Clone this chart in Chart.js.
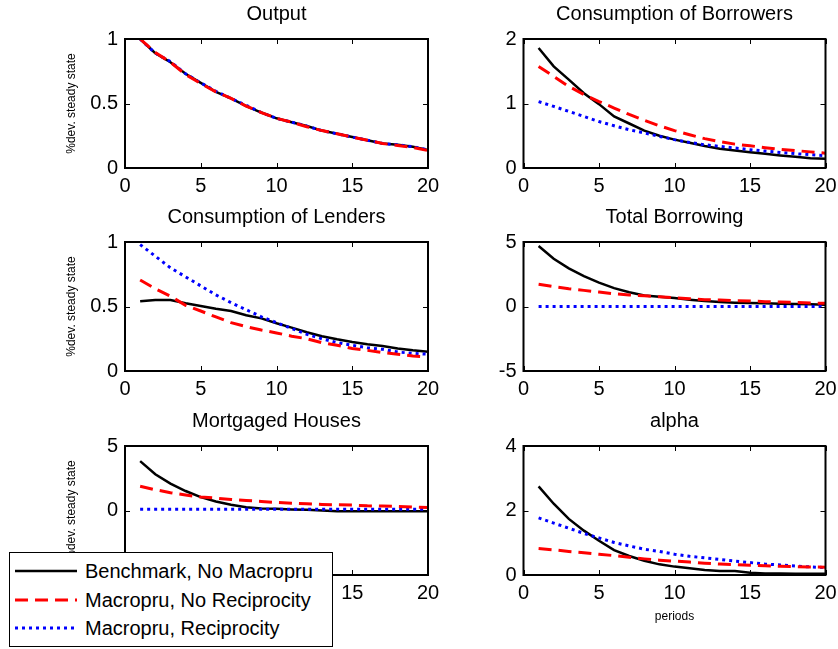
<!DOCTYPE html>
<html>
<head>
<meta charset="utf-8">
<script src="https://cdn.jsdelivr.net/npm/chart.js@4.4.1/dist/chart.umd.min.js"></script>
<style>
  html, body { margin: 0; padding: 0; background: #fff; }
  body { width: 838px; height: 649px; position: relative; overflow: hidden; font-family: "Liberation Sans", Arial, sans-serif; }
  .panel { position: absolute; }
  #legend { position: absolute; left: 9px; top: 552px; width: 322px; height: 93px; border: 1.5px solid #000; background: #fff; z-index: 5; }
  #legend .row { position: absolute; left: 0; height: 24px; line-height: 24px; font-size: 20px; white-space: nowrap; }
  #legend canvas { position: absolute; left: 4px; top: 2px; }
  #legend span { position: absolute; left: 75px; top: 0; }
</style>
</head>
<body>
<div id="legend"></div>
<script>
// periods on the x axis
const periods = [1, 2, 3, 4, 5, 6, 7, 8, 9, 10, 11, 12, 13, 14, 15, 16, 17, 18, 19, 20];
const xTicks = [0, 5, 10, 15, 20];

const seriesNames = ['Benchmark, No Macropru', 'Macropru, No Reciprocity', 'Macropru, Reciprocity'];

// Output
const outputBench = [1.0, 0.89, 0.82, 0.73, 0.66, 0.59, 0.54, 0.48, 0.43, 0.385, 0.355, 0.325, 0.29, 0.265, 0.24, 0.215, 0.19, 0.18, 0.165, 0.14];
const outputNoRecip = [1.0, 0.895, 0.82, 0.725, 0.655, 0.59, 0.54, 0.48, 0.43, 0.385, 0.355, 0.32, 0.29, 0.265, 0.24, 0.215, 0.19, 0.175, 0.16, 0.135];
const outputRecip = [1.0, 0.89, 0.825, 0.73, 0.66, 0.595, 0.54, 0.485, 0.43, 0.385, 0.355, 0.325, 0.29, 0.265, 0.24, 0.215, 0.19, 0.18, 0.165, 0.14];

// Consumption of Borrowers
const cbBench = [1.86, 1.575, 1.37, 1.16, 0.99, 0.80, 0.69, 0.58, 0.50, 0.44, 0.39, 0.34, 0.30, 0.27, 0.245, 0.22, 0.195, 0.175, 0.15, 0.145];
const cbNoRecip = [1.575, 1.42, 1.265, 1.14, 1.03, 0.93, 0.83, 0.74, 0.655, 0.58, 0.515, 0.455, 0.41, 0.37, 0.345, 0.315, 0.29, 0.27, 0.25, 0.23];
const cbRecip = [1.03, 0.955, 0.877, 0.80, 0.72, 0.655, 0.594, 0.543, 0.49, 0.44, 0.397, 0.36, 0.335, 0.31, 0.284, 0.263, 0.242, 0.222, 0.206, 0.19];

// Consumption of Lenders
const clBench = [0.54, 0.55, 0.55, 0.525, 0.504, 0.483, 0.465, 0.432, 0.408, 0.37, 0.336, 0.30, 0.27, 0.246, 0.225, 0.207, 0.194, 0.174, 0.16, 0.15];
const clNoRecip = [0.705, 0.638, 0.58, 0.509, 0.465, 0.419, 0.375, 0.344, 0.318, 0.295, 0.27, 0.25, 0.22, 0.20, 0.174, 0.16, 0.143, 0.13, 0.116, 0.11];
const clRecip = [0.98, 0.89, 0.80, 0.73, 0.66, 0.59, 0.53, 0.475, 0.42, 0.375, 0.33, 0.285, 0.25, 0.22, 0.20, 0.18, 0.168, 0.147, 0.137, 0.13];

// Total Borrowing
const tbBench = [4.69, 3.70, 2.96, 2.36, 1.85, 1.42, 1.10, 0.85, 0.75, 0.65, 0.53, 0.43, 0.35, 0.30, 0.27, 0.245, 0.22, 0.19, 0.17, 0.14];
const tbNoRecip = [1.72, 1.54, 1.38, 1.25, 1.12, 0.99, 0.89, 0.83, 0.75, 0.67, 0.61, 0.53, 0.50, 0.45, 0.43, 0.37, 0.35, 0.32, 0.27, 0.25];
const tbRecip = [0, 0, 0, 0, 0, 0, 0, 0, 0, 0, 0, 0, 0, 0, 0, 0, 0, 0, 0, 0];

// Mortgaged Houses
const mhBench = [3.83, 2.81, 2.08, 1.51, 1.04, 0.70, 0.44, 0.26, 0.16, 0.13, 0.08, 0.05, 0.0, -0.05, -0.05, -0.05, -0.05, -0.05, -0.05, -0.05];
const mhNoRecip = [1.875, 1.61, 1.38, 1.20, 1.04, 0.96, 0.86, 0.78, 0.70, 0.625, 0.57, 0.52, 0.47, 0.44, 0.42, 0.365, 0.34, 0.31, 0.26, 0.23];
const mhRecip = [0.1, 0.1, 0.1, 0.1, 0.1, 0.1, 0.1, 0.1, 0.1, 0.1, 0.1, 0.1, 0.1, 0.1, 0.1, 0.1, 0.1, 0.1, 0.1, 0.1];

// alpha
const alphaBench = [2.75, 2.21, 1.74, 1.375, 1.06, 0.77, 0.59, 0.44, 0.33, 0.26, 0.21, 0.156, 0.125, 0.125, 0.07, 0.05, 0.05, 0.04, 0.04, 0.04];
const alphaNoRecip = [0.82, 0.78, 0.73, 0.69, 0.645, 0.60, 0.55, 0.50, 0.46, 0.43, 0.40, 0.365, 0.34, 0.32, 0.30, 0.29, 0.27, 0.26, 0.25, 0.24];
const alphaRecip = [1.77, 1.61, 1.45, 1.29, 1.15, 1.01, 0.90, 0.80, 0.73, 0.645, 0.58, 0.53, 0.48, 0.43, 0.385, 0.34, 0.31, 0.28, 0.25, 0.23];

// y tick labels per panel
const outputTicks = [0, 0.5, 1];
const cbTicks = [0, 1, 2];
const clTicks = [0, 0.5, 1];
const tbTicks = [-5, 0, 5];
const mhTicks = [-5, 0, 5];
const alphaTicks = [0, 2, 4];

const fontFamily = '"Liberation Sans", Arial, Helvetica, sans-serif';
Chart.defaults.font.family = fontFamily;
Chart.defaults.color = '#000';

// line styles: black solid, red dashed, blue dotted
const styles = [
  { borderColor: '#000000', borderWidth: 2.5, borderDash: [], order: 3 },
  { borderColor: '#ff0000', borderWidth: 3, borderDash: [13, 7], order: 1 },
  { borderColor: '#0000ff', borderWidth: 3, borderDash: [3, 4], order: 2 }
];

const panels = [
  { title: 'Output', col: 0, row: 0, series: [outputBench, outputNoRecip, outputRecip], yTicks: outputTicks },
  { title: 'Consumption of Borrowers', col: 1, row: 0, series: [cbBench, cbNoRecip, cbRecip], yTicks: cbTicks },
  { title: 'Consumption of Lenders', col: 0, row: 1, series: [clBench, clNoRecip, clRecip], yTicks: clTicks },
  { title: 'Total Borrowing', col: 1, row: 1, series: [tbBench, tbNoRecip, tbRecip], yTicks: tbTicks },
  { title: 'Mortgaged Houses', col: 0, row: 2, series: [mhBench, mhNoRecip, mhRecip], yTicks: mhTicks },
  { title: 'alpha', col: 1, row: 2, series: [alphaBench, alphaNoRecip, alphaRecip], yTicks: alphaTicks, xTitle: 'periods' }
];

// column / row geometry
const cols = [
  { left: 0, width: 445, yWidth: 125, padRight: 17 },
  { left: 430, width: 408, yWidth: 93.5, padRight: 12.5 }
];
const rows = [
  { top: 0, height: 203 },
  { top: 203, height: 203 },
  { top: 407, height: 242 }
];
const titleBox = 39, plotH = 129;

// title centred over the plot box, like MATLAB
const titlePlugin = {
  id: 'panelTitle',
  afterDraw(chart, args, opts) {
    const { ctx, chartArea: a } = chart;
    ctx.save();
    ctx.font = '20px ' + fontFamily;
    ctx.fillStyle = '#000';
    ctx.textAlign = 'center';
    ctx.textBaseline = 'middle';
    ctx.fillText(opts.text, (a.left + a.right) / 2, a.top - 25);
    ctx.restore();
  }
};

// MATLAB style box with inward ticks on all four sides
const boxPlugin = {
  id: 'matlabBox',
  afterDatasetsDraw(chart) {
    const { ctx, chartArea: a, scales: { x, y } } = chart;
    ctx.save();
    ctx.strokeStyle = '#000';
    ctx.lineWidth = 1;
    ctx.setLineDash([]);
    ctx.beginPath();
    x.ticks.forEach(t => {
      const px = Math.round(x.getPixelForValue(t.value)) + 0.5;
      ctx.moveTo(px, a.bottom); ctx.lineTo(px, a.bottom - 5);
      ctx.moveTo(px, a.top); ctx.lineTo(px, a.top + 5);
    });
    y.ticks.forEach(t => {
      const py = Math.round(y.getPixelForValue(t.value)) + 0.5;
      ctx.moveTo(a.left, py); ctx.lineTo(a.left + 5, py);
      ctx.moveTo(a.right, py); ctx.lineTo(a.right - 5, py);
    });
    ctx.stroke();
    ctx.lineWidth = 2;
    ctx.strokeRect(a.left, a.top, a.right - a.left, a.bottom - a.top);
    ctx.restore();
  }
};

panels.forEach(p => {
  const c = cols[p.col], r = rows[p.row];
  const div = document.createElement('div');
  div.className = 'panel';
  div.style.left = c.left + 'px';
  div.style.top = r.top + 'px';
  div.style.width = c.width + 'px';
  div.style.height = r.height + 'px';
  const canvas = document.createElement('canvas');
  div.appendChild(canvas);
  document.body.appendChild(div);

  const xHeight = r.height - titleBox - plotH;
  const yt = p.yTicks;

  new Chart(canvas, {
    type: 'line',
    data: {
      datasets: p.series.map((vals, i) => ({
        label: seriesNames[i],
        data: periods.map((x, k) => ({ x: x, y: vals[k] })),
        borderColor: styles[i].borderColor,
        borderWidth: styles[i].borderWidth,
        borderDash: styles[i].borderDash,
        order: styles[i].order,
        pointRadius: 0,
        tension: 0,
        fill: false
      }))
    },
    options: {
      responsive: true,
      maintainAspectRatio: false,
      animation: false,
      events: [],
      layout: { padding: { left: 0, right: c.padRight, top: titleBox, bottom: 0 } },
      plugins: {
        legend: { display: false },
        tooltip: { enabled: false },
        title: { display: false },
        panelTitle: { text: p.title }
      },
      scales: {
        x: {
          type: 'linear',
          min: xTicks[0],
          max: xTicks[xTicks.length - 1],
          grid: { display: false, drawTicks: false },
          border: { display: false },
          afterBuildTicks(s) { s.ticks = xTicks.map(v => ({ value: v })); },
          ticks: { padding: 6, color: '#000', font: { size: 20 }, maxRotation: 0, callback: v => String(v) },
          title: p.xTitle ? { display: true, text: p.xTitle, color: '#000', font: { size: 12 }, padding: { top: 0, bottom: 25 } } : { display: false },
          afterFit(s) { s.height = xHeight; s.paddingLeft = 0; s.paddingRight = 0; }
        },
        y: {
          min: yt[0],
          max: yt[yt.length - 1],
          grid: { display: false, drawTicks: false },
          border: { display: false },
          afterBuildTicks(s) { s.ticks = yt.map(v => ({ value: v })); },
          ticks: { padding: 7, color: '#000', font: { size: 20 }, callback: v => String(v) },
          title: p.col === 0 ? { display: true, text: '%dev. steady state', color: '#000', font: { size: 12 }, padding: { top: 64, bottom: 0 } } : { display: false },
          afterFit(s) { s.width = c.yWidth; s.paddingTop = 0; s.paddingBottom = 0; }
        }
      }
    },
    plugins: [boxPlugin, titlePlugin]
  });
});

// legend box drawn over the lower left panel
const legend = document.getElementById('legend');
const rowCenters = [18, 47, 75];
seriesNames.forEach((name, i) => {
  const row = document.createElement('div');
  row.className = 'row';
  row.style.top = (rowCenters[i] - 12) + 'px';
  const cv = document.createElement('canvas');
  cv.width = 64; cv.height = 20;
  const g = cv.getContext('2d');
  g.strokeStyle = styles[i].borderColor;
  g.lineWidth = styles[i].borderWidth;
  g.setLineDash(styles[i].borderDash);
  g.beginPath();
  g.moveTo(1, 10); g.lineTo(63, 10);
  g.stroke();
  const sp = document.createElement('span');
  sp.textContent = name;
  row.appendChild(cv);
  row.appendChild(sp);
  legend.appendChild(row);
});
</script>
</body>
</html>
